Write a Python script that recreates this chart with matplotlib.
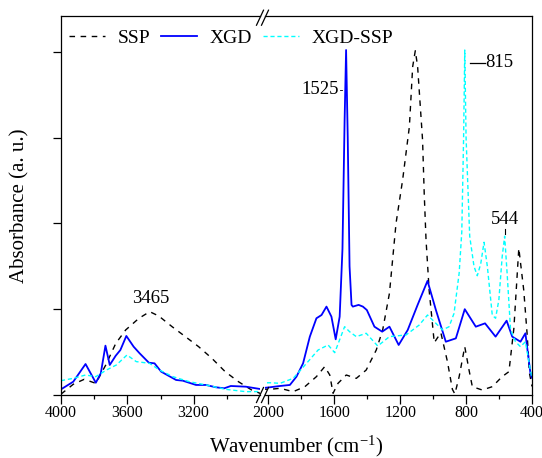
import numpy as np
import matplotlib
matplotlib.use('Agg')
import matplotlib.pyplot as plt
from matplotlib.lines import Line2D

plt.rcParams['font.family'] = 'Liberation Serif'
plt.rcParams['mathtext.fontset'] = 'custom'
plt.rcParams['mathtext.rm'] = 'Liberation Serif'
plt.rcParams['mathtext.it'] = 'Liberation Serif:italic'

# FTIR spectra (absorbance in arbitrary units)
wn_ssp = [4000, 3926, 3860, 3790, 3730, 3670, 3610, 3530, 3465, 3410, 3330, 3250, 3170,
          3090, 3010, 2930, 2850, 2800,
          2040, 1990, 1929, 1849, 1778, 1708, 1658, 1627, 1607, 1577, 1527, 1466, 1406,
          1345, 1306, 1265, 1225, 1185, 1144, 1124, 1108, 1094, 1064, 1054, 1043, 1024,
          993, 953, 913, 883, 868, 842, 808, 782, 762, 702, 641, 581, 540, 510, 480,
          450, 430, 415, 400]
ab_ssp = [0.01, 0.125, 0.183, 0.136, 0.35, 0.6, 0.758, 0.894, 0.971, 0.92, 0.796, 0.68, 0.563,
          0.427, 0.272, 0.155, 0.058, 0.02,
          0.07, 0.066, 0.078, 0.039, 0.097, 0.214, 0.33, 0.233, 0.02, 0.136, 0.233, 0.194, 0.291,
          0.524, 0.758, 1.185, 2.0, 2.506, 3.127, 3.826, 4.013, 3.826, 2.972, 2.35, 1.81, 1.22,
          0.61, 0.726, 0.388, 0.066, 0.012, 0.214, 0.563, 0.29, 0.097, 0.058, 0.097, 0.214,
          0.272, 0.777, 1.71, 1.22, 0.72, 0.25, 0.1]

wn_xgd = [4000, 3926, 3852, 3790, 3760, 3732, 3706, 3670, 3642, 3606, 3562, 3526, 3470,
          3436, 3396, 3306, 3266, 3186, 3126, 3066, 3016, 2976, 2886, 2800,
          2040, 1990, 1929, 1869, 1829, 1789, 1748, 1708, 1677, 1647, 1617, 1591, 1567,
          1550, 1537, 1528, 1518, 1507, 1495, 1487, 1452, 1426, 1402, 1356, 1309, 1265,
          1209, 1154, 1094, 1034, 983, 923, 862, 808, 741, 685, 621, 554, 520, 470, 440,
          410, 400]
ab_xgd = [0.066, 0.155, 0.361, 0.143, 0.253, 0.575, 0.35, 0.458, 0.524, 0.688, 0.563, 0.486, 0.376,
          0.369, 0.272, 0.175, 0.167, 0.117, 0.117, 0.09, 0.078, 0.105, 0.097, 0.07,
          0.08, 0.09, 0.105, 0.117, 0.214, 0.369, 0.68, 0.894, 0.932, 1.03, 0.913, 0.649, 0.913,
          1.7, 3.2, 4.02, 3.0, 1.5, 1.05, 1.03, 1.05, 1.03, 0.99, 0.796, 0.738, 0.796,
          0.583, 0.758, 1.05, 1.33, 0.99, 0.621, 0.66, 1.0, 0.796, 0.835, 0.68, 0.866, 0.68,
          0.621, 0.719, 0.26, 0.2]

wn_mix = [4000, 3926, 3852, 3790, 3726, 3666, 3602, 3546, 3466, 3406, 3326, 3226, 3126,
          3006, 2886, 2800,
          2040, 1990, 1929, 1849, 1768, 1698, 1637, 1597, 1537, 1507, 1466, 1406, 1336,
          1265, 1164, 1084, 1034, 983, 943, 903, 873, 842, 826, 815, 808, 800, 778, 752,
          732, 711, 691, 671, 641, 621, 601, 581, 566, 551, 530, 500, 470, 440, 410, 400]
ab_mix = [0.167, 0.194, 0.233, 0.214, 0.291, 0.35, 0.466, 0.389, 0.369, 0.291, 0.214, 0.155, 0.117,
          0.066, 0.039, 0.04,
          0.14, 0.143, 0.136, 0.194, 0.369, 0.524, 0.583, 0.493, 0.796, 0.738, 0.68, 0.719, 0.571,
          0.68, 0.70, 0.816, 0.932, 0.835, 0.758, 0.796, 0.952, 1.42, 1.9, 3.0, 4.02, 3.0, 1.85,
          1.5, 1.39, 1.53, 1.78, 1.5, 0.93, 0.894, 1.11, 1.61, 1.85, 1.42, 0.758, 0.621, 0.563,
          0.621, 0.29, 0.2]

W, H = 542, 458
fig = plt.figure(figsize=(W / 100, H / 100), dpi=100)
bot, top = 395, 15.7
ax1 = fig.add_axes([61 / W, 1 - bot / H, (260 - 61) / W, (bot - top) / H])
ax2 = fig.add_axes([265 / W, 1 - bot / H, (532 - 265) / W, (bot - top) / H])

for ax in (ax1, ax2):
    ax.plot(wn_ssp, ab_ssp, color='black', lw=1.0, ls=(0, (4, 4)))
    ax.plot(wn_xgd, ab_xgd, color='#0000ff', lw=1.3, ls='-')
    ax.plot(wn_mix, ab_mix, color='#00ffff', lw=1.0, ls=(0, (3, 2)))
    ax.set_ylim(0, 4.42)
    for s in ax.spines.values():
        s.set_linewidth(0.9)
    ax.tick_params(axis='x', which='major', direction='out', length=6.5, width=0.9,
                   labelsize=11.5, pad=1)
    ax.tick_params(axis='x', which='minor', direction='out', length=3.2, width=0.9)

ax1.set_xlim(4000, 2800)
ax1.set_xticks([4000, 3600, 3200])
ax1.set_xticks([3800, 3400, 3000], minor=True)
ax1.set_yticks([0, 1, 2, 3, 4])
ax1.set_yticklabels([])
ax1.tick_params(axis='y', direction='out', length=5.8, width=0.9)
ax1.spines['right'].set_visible(False)

ax2.set_xlim(2020, 400)
ax2.set_xticks([2000, 1600, 1200, 800, 400])
ax2.set_xticks([1800, 1400, 1000, 600], minor=True)
ax2.set_yticks([])
ax2.spines['left'].set_visible(False)

# axis break marks
dx, dy = 3.5 / W, 7.5 / H
for xp in (260, 265):
    for yp in (bot, top + 2):
        xf, yf = xp / W, 1 - yp / H
        fig.add_artist(Line2D([xf - dx, xf + dx], [yf - dy, yf + dy], color='black', lw=0.9))

# peak labels
ax1.text(3458, 1.13, '3465', fontsize=13.5, ha='center', va='center')
ax2.text(1571, 3.56, '1525', fontsize=13.5, ha='right', va='center')
ax2.plot([1565, 1552], [3.56, 3.56], color='black', lw=0.6)
ax2.plot([778, 688], [3.87, 3.87], color='black', lw=0.9)
ax2.text(684, 3.87, '815', fontsize=13.5, ha='left', va='center')
ax2.text(566, 2.04, '544', fontsize=13.5, ha='center', va='center')
ax2.plot([566, 566], [1.93, 1.88], color='black', lw=0.8)

handles = [Line2D([], [], color='black', lw=1.0, ls=(0, (4, 4))),
           Line2D([], [], color='#0000ff', lw=1.3),
           Line2D([], [], color='#00ffff', lw=1.0, ls=(0, (3, 2)))]
fig.legend(handles, ['SSP', 'XGD', 'XGD-SSP'], loc='center left',
           bbox_to_anchor=(69 / W, 1 - 37.7 / H), ncol=3, frameon=False,
           fontsize=14, handlelength=1.86, handletextpad=0.65, columnspacing=0.55,
           borderpad=0, borderaxespad=0)

fig.text(296.5 / W, 1 - 446 / H, 'Wavenumber (cm$^{-1}$)', fontsize=15,
         ha='center', va='center')
fig.text(20 / W, 1 - 206 / H, 'Absorbance (a. u.)', fontsize=15, rotation=90,
         ha='center', va='center')

fig.savefig('out.png', dpi=100)
